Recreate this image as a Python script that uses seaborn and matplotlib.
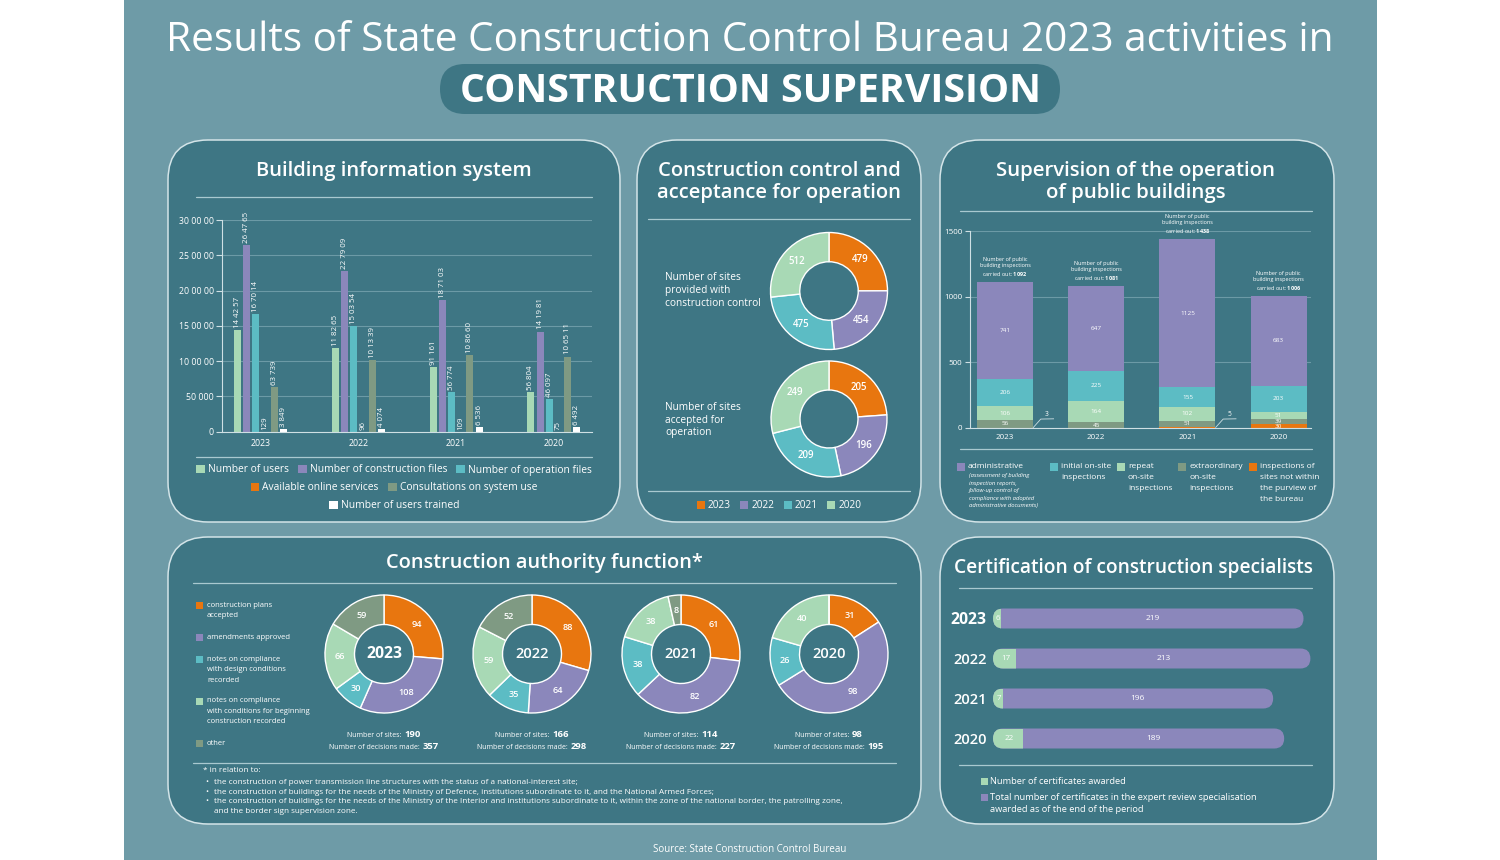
import numpy as np
import pandas as pd
import matplotlib
matplotlib.use("Agg")
import matplotlib.pyplot as plt
import seaborn as sns
from matplotlib.patches import FancyBboxPatch, Rectangle, Patch

# ---------------- data ----------------
years = ["2023", "2022", "2021", "2020"]

bis_metrics = ["Number of users", "Number of construction files", "Number of operation files",
               "Available online services", "Consultations on system use", "Number of users trained"]
bis_users = [144257, 118265, 91161, 56804]
bis_construction_files = [264765, 227909, 187103, 141981]
bis_operation_files = [167014, 150354, 56774, 46097]
bis_online_services = [129, 96, 109, 75]
bis_consultations = [63739, 101339, 108660, 106511]
bis_users_trained = [3849, 4074, 6536, 6492]
bis_label_users = ["14 42 57", "11 82 65", "91 161", "56 804"]
bis_label_construction = ["26 47 65", "22 79 09", "18 71 03", "14 19 81"]
bis_label_operation = ["16 70 14", "15 03 54", "56 774", "46 097"]
bis_label_online = ["129", "96", "109", "75"]
bis_label_consult = ["63 739", "10 13 39", "10 86 60", "10 65 11"]
bis_label_trained = ["3 849", "4 074", "6 536", "6 492"]
bis_yticks = [0, 50000, 100000, 150000, 200000, 250000, 300000]
bis_yticklabels = ["0", "50 000", "10 00 00", "15 00 00", "20 00 00", "25 00 00", "30 00 00"]

cc_labels = ["Number of sites\nprovided with\nconstruction control", "Number of sites\naccepted for\noperation"]
cc_sites_control = [479, 454, 475, 512]
cc_sites_accepted = [205, 196, 209, 249]

sup_categories = ["administrative", "initial on-site\ninspections", "repeat\non-site\ninspections",
                  "extraordinary\non-site\ninspections", "inspections of\nsites not within\nthe purview of\nthe bureau"]
sup_admin_note = "(assessment of building\ninspection reports,\nfollow-up control of\ncompliance with adopted\nadministrative documents)"
sup_administrative = [741, 647, 1125, 683]
sup_initial = [206, 225, 155, 203]
sup_repeat = [106, 164, 102, 51]
sup_extraordinary = [56, 45, 51, 39]
sup_outside = [3, 0, 5, 30]
sup_totals = [1092, 1081, 1438, 1006]

caf_categories = ["construction plans\naccepted", "amendments approved",
                  "notes on compliance\nwith design conditions\nrecorded",
                  "notes on compliance\nwith conditions for beginning\nconstruction recorded", "other"]
caf_2023 = [94, 108, 30, 66, 59]
caf_2022 = [88, 64, 35, 59, 52]
caf_2021 = [61, 82, 38, 38, 8]
caf_2020 = [31, 98, 26, 40, 0]
caf_sites = [190, 166, 114, 98]
caf_decisions = [357, 298, 227, 195]
caf_footnote = ["* in relation to:",
                "the construction of power transmission line structures with the status of a national-interest site;",
                "the construction of buildings for the needs of the Ministry of Defence, institutions subordinate to it, and the National Armed Forces;",
                "the construction of buildings for the needs of the Ministry of the Interior and institutions subordinate to it, within the zone of the national border, the patrolling zone,\nand the border sign supervision zone."]

cert_awarded = [6, 17, 7, 22]
cert_total = [219, 213, 196, 189]
cert_legend = ["Number of certificates awarded",
               "Total number of certificates in the expert review specialisation\nawarded as of the end of the period"]

# ---------------- style ----------------
OUTER = "#6e9ba7"
PANEL = "#3e7684"
BORDER = "#d3e4e8"
SEP = "#a9c9d0"
GRID = "#6c9aa6"
AXIS = "#cfe0e4"
ORANGE = "#e8760f"
PURPLE = "#8b87bb"
TEAL = "#5cbcc4"
MINT = "#a8d9b5"
OLIVE = "#7f9a83"
WHITE = "#ffffff"

W, H = 1500, 860
sns.set_theme(style="white")
plt.rcParams["font.family"] = ["Open Sans", "DejaVu Sans"]
plt.rcParams["mathtext.fontset"] = "custom"
plt.rcParams["mathtext.rm"] = "Open Sans"
plt.rcParams["mathtext.bf"] = "Open Sans:bold"

fig = plt.figure(figsize=(W / 100, H / 100), dpi=100, facecolor="white")
renderer = fig.canvas.get_renderer()

bg = fig.add_axes([0, 0, 1, 1])
bg.set_xlim(0, W)
bg.set_ylim(H, 0)
bg.axis("off")


def px_axes(x0, y0, x1, y1):
    ax = fig.add_axes([x0 / W, 1 - y1 / H, (x1 - x0) / W, (y1 - y0) / H])
    ax.set_facecolor("none")
    return ax


def T(x, y, s, size, ha="left", va="center", color=WHITE, **kw):
    return bg.text(x, y, s, fontsize=size, ha=ha, va=va, color=color, zorder=5, **kw)


def fit(t, width):
    w = t.get_window_extent(renderer).width
    t.set_fontsize(t.get_fontsize() * width / w)


def panel(x0, y0, x1, y1):
    bg.add_patch(FancyBboxPatch((x0, y0), x1 - x0, y1 - y0, boxstyle="round,pad=0,rounding_size=40",
                                fc=PANEL, ec=BORDER, lw=1.1, zorder=1))


def hline(x0, x1, y):
    bg.plot([x0, x1], [y, y], color=SEP, lw=0.9, zorder=2)


def title_lines(cx, ys, lines, width):
    ts = [T(cx, y, l, 14, ha="center", fontweight="semibold") for y, l in zip(ys, lines)]
    wmax = max(t.get_window_extent(renderer).width for t in ts)
    for t in ts:
        t.set_fontsize(14 * width / wmax)


def square(x, y, c, s=7):
    bg.add_patch(Rectangle((x, y - s / 2), s, s, fc=c, ec="none", zorder=4))


def lines_text(x, y0, dy, s, size, **kw):
    for j, line in enumerate(s.split("\n")):
        T(x, y0 + j * dy, line, size, **kw)


def legend_row(items, cx, y, fs, hl=0.85):
    handles = [Patch(facecolor=c, edgecolor="none") for _, c in items]
    labels = [l for l, _ in items]
    fig.legend(handles, labels, loc="center", bbox_to_anchor=(cx / W, 1 - y / H), ncol=len(items),
               frameon=False, fontsize=fs, handlelength=hl, handleheight=hl, handletextpad=0.3,
               columnspacing=0.9, borderpad=0, borderaxespad=0, labelcolor=WHITE)


# background and header
bg.add_patch(Rectangle((124, 0), 1253, H, fc=OUTER, ec="none", zorder=0))
t = T(750, 41, "Results of State Construction Control Bureau 2023 activities in", 26, ha="center")
fit(t, 1170)
bg.add_patch(FancyBboxPatch((440, 64), 620, 50, boxstyle="round,pad=0,rounding_size=25",
                            fc=PANEL, ec="none", zorder=1))
t = T(750, 92, "CONSTRUCTION SUPERVISION", 22, ha="center", fontweight="bold")
fit(t, 580)
T(750, 849, "Source: State Construction Control Bureau", 7, ha="center")

# panels
panel(168, 140, 620, 522)
panel(637, 140, 921, 522)
panel(940, 140, 1334, 522)
panel(168, 537, 921, 824)
panel(940, 537, 1334, 824)

title_lines(394, [171], ["Building information system"], 279)
title_lines(779, [171, 193], ["Construction control and", "acceptance for operation"], 247)
title_lines(1136, [171, 193], ["Supervision of the operation", "of public buildings"], 283)
title_lines(544, [563], ["Construction authority function*"], 321)
title_lines(1133, [568], ["Certification of construction specialists"], 364)

hline(196, 592, 197)
hline(196, 592, 457)
hline(648, 910, 219)
hline(648, 910, 491)
hline(960, 1312, 211)
hline(960, 1312, 449)
hline(193, 896, 583)
hline(193, 896, 763)
hline(959, 1312, 588)
hline(959, 1312, 765)

# ---------------- panel 1: building information system ----------------
bis_series = [bis_users, bis_construction_files, bis_operation_files,
              bis_online_services, bis_consultations, bis_users_trained]
bis_labels = [bis_label_users, bis_label_construction, bis_label_operation,
              bis_label_online, bis_label_consult, bis_label_trained]
bis_colors = [MINT, PURPLE, TEAL, ORANGE, OLIVE, WHITE]
rows = [(y, m, v) for m, vals in zip(bis_metrics, bis_series) for y, v in zip(years, vals)]
df1 = pd.DataFrame(rows, columns=["year", "metric", "value"])

ax1 = px_axes(222, 220, 592, 431.7)
sns.barplot(data=df1, x="year", y="value", hue="metric", order=years, hue_order=bis_metrics,
            palette=bis_colors, width=0.565, gap=0.24, saturation=1, errorbar=None, legend=False,
            linewidth=0, edgecolor="none", ax=ax1)
ax1.set_xlim(-0.394, 3.39)
ax1.set_ylim(0, 300000)
ax1.set_yticks(bis_yticks)
ax1.set_yticklabels(bis_yticklabels)
ax1.set_xlabel("")
ax1.set_ylabel("")
ax1.grid(axis="y", color=GRID, lw=0.8)
ax1.set_axisbelow(True)
for s in ["top", "right"]:
    ax1.spines[s].set_visible(False)
for s in ["left", "bottom"]:
    ax1.spines[s].set_color(AXIS)
    ax1.spines[s].set_linewidth(0.8)
ax1.tick_params(axis="y", left=True, colors=AXIS, labelcolor=WHITE, length=4, width=0.8, labelsize=6.3, pad=2)
ax1.tick_params(axis="x", bottom=False, length=0, labelcolor=WHITE, labelsize=6.3, pad=5)
for cont, labs in zip(ax1.containers, bis_labels):
    ax1.bar_label(cont, labels=labs, rotation=90, padding=1.5, color=WHITE, fontsize=5.7)

legend_row(list(zip(bis_metrics[:3], bis_colors[:3])), 394, 470, 7.4)
legend_row(list(zip(bis_metrics[3:5], bis_colors[3:5])), 394, 488, 7.4)
legend_row(list(zip(bis_metrics[5:], bis_colors[5:])), 394, 506, 7.4)


# ---------------- donut helper ----------------
def donut_axes(cx, cy, r):
    k = 1.03
    return px_axes(cx - r * k, cy - r * k, cx + r * k, cy + r * k)


def draw_donut(ax, values, colors, fs, hole=0.5):
    total = sum(values)

    def fmt(p):
        v = int(round(p * total / 100.0))
        return str(v) if v > 0 else ""

    ax.pie(values, colors=colors, startangle=90, counterclock=False, radius=1, autopct=fmt,
           pctdistance=(1 + hole) / 2, wedgeprops=dict(width=1 - hole, edgecolor=WHITE, linewidth=1.0),
           textprops=dict(color=WHITE, fontsize=fs, fontweight="semibold"))
    ax.set_xlim(-1.03, 1.03)
    ax.set_ylim(-1.03, 1.03)
    ax.set_aspect("equal")
    ax.axis("off")


# ---------------- panel 2: construction control ----------------
cc_colors = [ORANGE, PURPLE, TEAL, MINT]
a2 = donut_axes(829, 291, 58.5)
draw_donut(a2, cc_sites_control, cc_colors, 7)
a2b = donut_axes(829, 419, 58)
draw_donut(a2b, cc_sites_accepted, cc_colors, 7)
lines_text(665, 277, 13, cc_labels[0], 7.3)
lines_text(665, 407.5, 12.7, cc_labels[1], 7.3)
legend_row(list(zip(years, cc_colors)), 779, 506, 7.3, hl=0.8)

# ---------------- panel 3: public buildings supervision ----------------
layers = [sup_outside, sup_extraordinary, sup_repeat, sup_initial, sup_administrative]  # bottom -> top
layer_colors = [ORANGE, OLIVE, MINT, TEAL, PURPLE]
cum = np.cumsum(np.array(layers), axis=0)

ax3 = px_axes(970, 231, 1311, 428)
for k in range(len(layers) - 1, -1, -1):
    sns.barplot(x=years, y=cum[k], order=years, color=layer_colors[k], width=0.614, saturation=1,
                errorbar=None, linewidth=0, edgecolor="none", ax=ax3)
ax3.set_xlim(-0.384, 3.355)
ax3.set_ylim(0, 1500)
ax3.set_yticks([0, 500, 1000, 1500])
ax3.grid(axis="y", color=GRID, lw=0.8)
ax3.set_axisbelow(True)
for s in ["top", "right"]:
    ax3.spines[s].set_visible(False)
for s in ["left", "bottom"]:
    ax3.spines[s].set_color(AXIS)
    ax3.spines[s].set_linewidth(0.8)
ax3.tick_params(axis="y", left=True, colors=AXIS, labelcolor=WHITE, length=3.5, width=0.8, labelsize=5.8, pad=2)
ax3.tick_params(axis="x", bottom=False, length=0, labelcolor=WHITE, labelsize=5.8, pad=4)
ax3.set_xlabel("")
ax3.set_ylabel("")

half = 0.614 / 2
for k, vals in enumerate(layers):
    for i, v in enumerate(vals):
        if v == 0:
            continue
        bottom = cum[k][i] - v
        if v < 10:
            xe = i + half
            ax3.plot([xe, xe + 0.085, xe + 0.23], [bottom + v / 2, 68, 70], color=AXIS, lw=0.6,
                     solid_capstyle="butt", clip_on=False)
            ax3.text(xe + 0.15, 74, str(v), ha="center", va="bottom", fontsize=4.8, color=WHITE)
        else:
            ax3.text(i, bottom + v / 2, str(v), ha="center", va="center", fontsize=4.6, color=WHITE)

for i, tot in enumerate(sup_totals):
    ax3.annotate("Number of public\nbuilding inspections\ncarried out: $\\mathbf{%d}$" % tot,
                 xy=(i, cum[-1][i]), xytext=(0, 3), textcoords="offset points", ha="center", va="bottom",
                 fontsize=4.0, color=WHITE, linespacing=1.3)

sup_leg_x = [957, 1050, 1117, 1178, 1249]
for x, c, lab in zip(sup_leg_x, layer_colors[::-1], sup_categories):
    square(x, 467, c, 7.5)
    lines_text(x + 11, 466.7, 10.8, lab, 6.0)
lines_text(969, 475.5, 7.6, sup_admin_note, 4.2, style="italic")

# ---------------- panel 4: construction authority function ----------------
caf_colors = [ORANGE, PURPLE, TEAL, MINT, OLIVE]
caf_values = [caf_2023, caf_2022, caf_2021, caf_2020]
caf_cx = [384, 532, 681, 829]
for i, (cx, vals) in enumerate(zip(caf_cx, caf_values)):
    ax = donut_axes(cx, 654, 59)
    draw_donut(ax, vals, caf_colors, 6.6)
    ax.text(0, 0, years[i], ha="center", va="center", color=WHITE,
            fontsize=11.3 if i == 0 else 10.5, fontweight="bold" if i == 0 else "semibold")
    for y, lab, num in [(737, "Number of sites:", caf_sites[i]), (749, "Number of decisions made:", caf_decisions[i])]:
        t1 = T(0, y, lab, 5.0, va="baseline")
        t2 = T(0, y, str(num), 6.8, va="baseline", fontweight="bold")
        w1 = t1.get_window_extent(renderer).width
        w2 = t2.get_window_extent(renderer).width
        x0 = cx - (w1 + 3 + w2) / 2
        t1.set_x(x0)
        t2.set_x(x0 + w1 + 3)

caf_leg_y = [605.5, 637.5, 659.5, 701, 743.5]
for y, c, lab in zip(caf_leg_y, caf_colors, caf_categories):
    square(196, y, c, 7)
    lines_text(207, y, 10.3, lab, 5.5)

T(203, 771, caf_footnote[0], 5.9)
fy = [782, 792, 801.5]
for y, s in zip(fy, caf_footnote[1:]):
    T(205, y, "\u2022", 5.9)
    lines_text(214, y, 9.7, s, 5.9)

# ---------------- panel 5: certification ----------------
cert_sum = [a + b for a, b in zip(cert_awarded, cert_total)]
ax5 = px_axes(993, 598.5, 1320, 758.5)
sx = 1.38
xmax = 327 / sx
sns.barplot(x=cert_sum, y=years, order=years, orient="h", color=PURPLE, width=0.5, saturation=1,
            errorbar=None, linewidth=0, edgecolor="none", ax=ax5)
sns.barplot(x=cert_awarded, y=years, order=years, orient="h", color=MINT, width=0.5, saturation=1,
            errorbar=None, linewidth=0, edgecolor="none", ax=ax5)
sy = 40.0
r = 10.0 / sx
asp = sx / sy
pp_list = list(ax5.patches[:4])
mp_list = list(ax5.patches[4:8])
for pp, mp in zip(pp_list, mp_list):
    x, y, w, h = pp.get_x(), pp.get_y(), pp.get_width(), pp.get_height()
    ax5.add_patch(FancyBboxPatch((x, y), w, h, boxstyle="round,pad=0,rounding_size=%f" % r,
                                 mutation_aspect=asp, fc=PURPLE, ec="none"))
    gp = FancyBboxPatch((x, y), w, h, boxstyle="round,pad=0,rounding_size=%f" % r,
                        mutation_aspect=asp, fc=MINT, ec="none")
    ax5.add_patch(gp)
    gp.set_clip_path(Rectangle((x, y), mp.get_width(), h, transform=ax5.transData))
    pp.set_visible(False)
    mp.set_visible(False)
for i, (g, p) in enumerate(zip(cert_awarded, cert_total)):
    ax5.text(g / 2 + 0.6, i, str(g), ha="center", va="center", fontsize=5.8, color=WHITE)
    ax5.text(g + p / 2, i, str(p), ha="center", va="center", fontsize=6.0, color=WHITE)
ax5.set_xlim(0, xmax)
ax5.set_ylim(3.5, -0.5)
ax5.set_yticks(range(4))
ax5.set_yticklabels(years)
for j, lab in enumerate(ax5.get_yticklabels()):
    lab.set_fontweight("bold" if j == 0 else "semibold")
    lab.set_fontsize(11.3 if j == 0 else 10.5)
ax5.tick_params(axis="y", length=0, pad=4.5, labelcolor=WHITE)
ax5.set_xticks([])
ax5.set_xlabel("")
ax5.set_ylabel("")
for s in ax5.spines.values():
    s.set_visible(False)

square(981, 781, MINT, 7)
T(990, 781, cert_legend[0], 6.7)
square(981, 797.5, PURPLE, 7)
lines_text(990, 797.5, 12, cert_legend[1], 6.7)

fig.savefig("out.png", dpi=100, facecolor="white")
